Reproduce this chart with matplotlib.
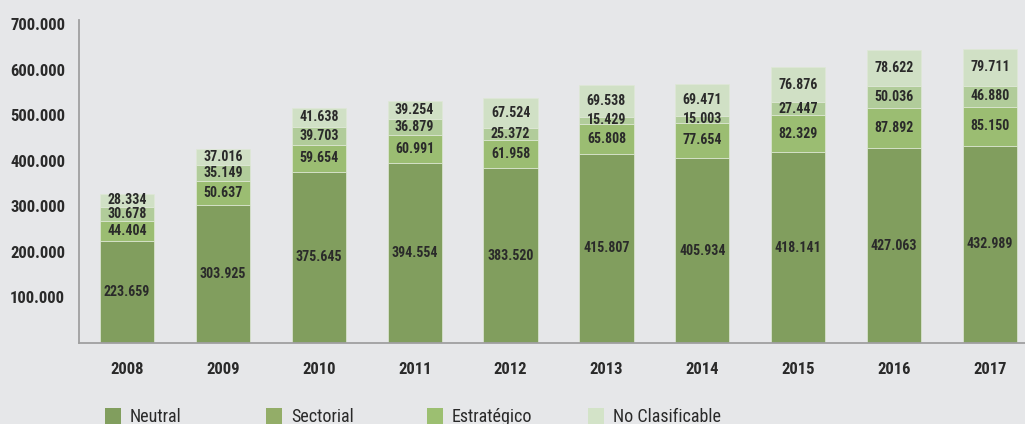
import matplotlib
matplotlib.use("Agg")
import matplotlib.pyplot as plt
import numpy as np
from matplotlib.patches import Rectangle

# datos
years = ["2008", "2009", "2010", "2011", "2012", "2013", "2014", "2015", "2016", "2017"]
neutral = [223659, 303925, 375645, 394554, 383520, 415807, 405934, 418141, 427063, 432989]
sectorial = [44404, 50637, 59654, 60991, 61958, 65808, 77654, 82329, 87892, 85150]
estrategico = [30678, 35149, 39703, 36879, 25372, 15429, 15003, 27447, 50036, 46880]
no_clasificable = [28334, 37016, 41638, 39254, 67524, 69538, 69471, 76876, 78622, 79711]

series_names = ["Neutral", "Sectorial", "Estratégico", "No Clasificable"]
series = [neutral, sectorial, estrategico, no_clasificable]
bar_colors = ["#819e5e", "#9bbd72", "#b1cc9a", "#d0e0c5"]
legend_colors = ["#819e5e", "#93ad68", "#9cbf71", "#d3e3c8"]

bg = "#e6e7e9"
txt = "#2a2a2a"
plt.rcParams['font.family'] = ['Roboto Condensed', 'DejaVu Sans']


def fmt(v):
    return f"{v:,}".replace(",", ".")


fig = plt.figure(figsize=(10.25, 4.24), dpi=100, facecolor=bg)
ax = fig.add_axes([0.0771, 0.191, 0.923, 0.762])
ax.set_facecolor(bg)

# barras apiladas
x = np.arange(len(years))
bottom = np.zeros(len(years))
for vals, col in zip(series, bar_colors):
    vals = np.array(vals)
    ax.bar(x, vals, 0.565, bottom=bottom, color=col, edgecolor="#dfe8d6", linewidth=0.5)
    for xi, b, v in zip(x, bottom, vals):
        ax.text(xi, b + v / 2, fmt(v), ha="center", va="center", fontsize=10,
                fontweight="bold", color=txt)
    bottom += vals

ax.set_xlim(-0.5, 9.365)
ax.set_ylim(0, 709000)
yt = [100000, 200000, 300000, 400000, 500000, 600000, 700000]
ax.set_yticks(yt)
ax.set_yticklabels([fmt(v) for v in yt], fontsize=12, fontweight="bold", color=txt)
ax.set_xticks(x)
ax.set_xticklabels(years, fontsize=12, fontweight="bold", color=txt)
ax.tick_params(axis="both", length=0)
ax.tick_params(axis="x", pad=14)
ax.tick_params(axis="y", pad=10)

for s in ["top", "right"]:
    ax.spines[s].set_visible(False)
for s in ["left", "bottom"]:
    ax.spines[s].set_color("#a0a0a0")
    ax.spines[s].set_linewidth(1.3)

# leyenda manual
W, H = 1025, 424
leg_x = [105, 266, 427, 588]
for lx, name, col in zip(leg_x, series_names, legend_colors):
    fig.add_artist(Rectangle((lx / W, 0), 16 / W, 16 / H, transform=fig.transFigure,
                             facecolor=col, edgecolor="none"))
    fig.text((lx + 25) / W, 2 / H, name, fontsize=13, color=txt, va="baseline", ha="left")

fig.savefig("out.png", dpi=100, facecolor=bg)
